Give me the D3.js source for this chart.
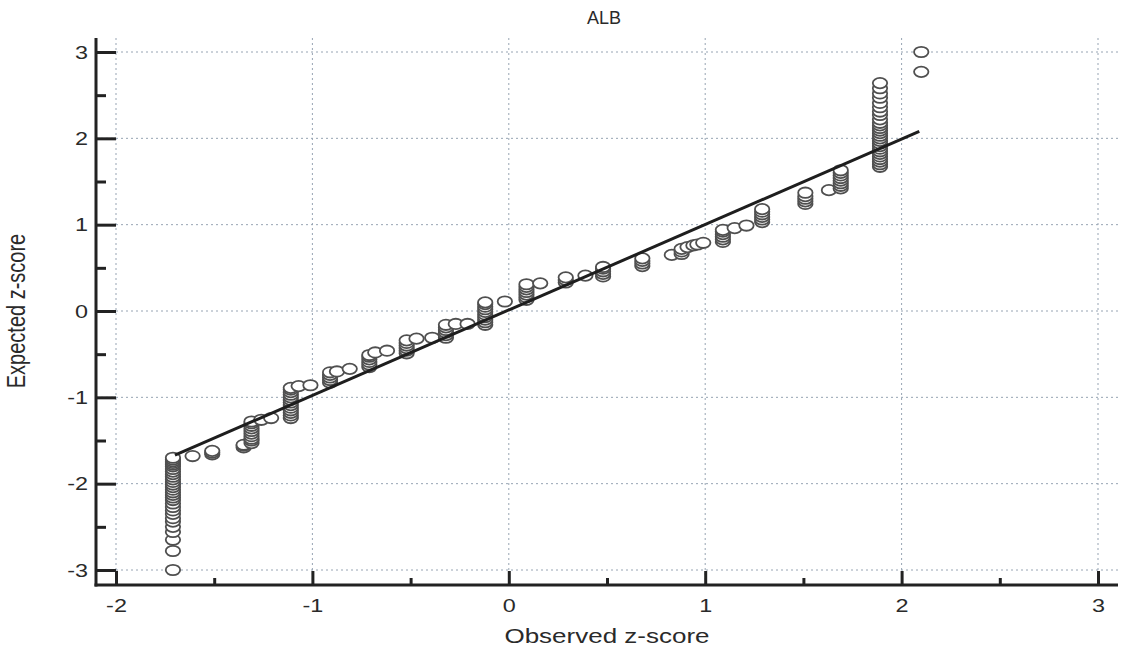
<!DOCTYPE html>
<html>
<head>
<meta charset="utf-8">
<script src="https://cdn.jsdelivr.net/npm/d3@7"></script>
<style>
  html, body { margin: 0; padding: 0; background: #ffffff; }
  text { font-family: "Liberation Sans", Arial, sans-serif; fill: #2a2a2a; }
</style>
</head>
<body>
<svg id="chart" width="1132" height="651"></svg>
<script>
// ---------- data ----------
const chartTitle = "ALB";
const xAxisTitle = "Observed z-score";
const yAxisTitle = "Expected z-score";
const xTickValues = [-2, -1, 0, 1, 2, 3];
const yTickValues = [-3, -2, -1, 0, 1, 2, 3];
const xTickLabels = ["-2", "-1", "0", "1", "2", "3"];
const yTickLabels = ["-3", "-2", "-1", "0", "1", "2", "3"];

// observed z-score for each group of points
const groupObserved = [
  -1.71, -1.61, -1.51, -1.35, -1.31, -1.26, -1.21, -1.11, -1.07, -1.01,
  -0.91, -0.875, -0.81, -0.71, -0.68, -0.62, -0.52, -0.47, -0.39, -0.32,
  -0.27, -0.21, -0.12, -0.02, 0.09, 0.16, 0.29, 0.39, 0.48, 0.68,
  0.83, 0.88, 0.91, 0.94, 0.96, 0.99, 1.09, 1.15, 1.21, 1.29,
  1.51, 1.63, 1.69, 1.89, 2.10
];
// expected z-scores of the points in each group
const groupExpected = [
  [-3.00, -2.78, -2.65, -2.56, -2.50, -2.44, -2.40, -2.35, -2.31, -2.27, -2.23, -2.19, -2.16, -2.13, -2.10,
   -2.07, -2.04, -2.01, -1.98, -1.95, -1.92, -1.89, -1.86, -1.83, -1.80, -1.78, -1.76, -1.74, -1.72, -1.70],
  [-1.68],
  [-1.66, -1.64, -1.62],
  [-1.58, -1.56, -1.55],
  [-1.53, -1.50, -1.48, -1.45, -1.42, -1.39, -1.36, -1.33, -1.30, -1.28],
  [-1.26],
  [-1.24],
  [-1.24, -1.21, -1.18, -1.15, -1.12, -1.09, -1.06, -1.03, -1.00, -0.97, -0.94, -0.91, -0.89],
  [-0.87],
  [-0.86],
  [-0.83, -0.80, -0.77, -0.74, -0.71],
  [-0.70],
  [-0.67],
  [-0.65, -0.62, -0.59, -0.56, -0.53, -0.51],
  [-0.48],
  [-0.46],
  [-0.49, -0.46, -0.43, -0.40, -0.37, -0.34],
  [-0.32],
  [-0.31],
  [-0.31, -0.28, -0.25, -0.22, -0.19, -0.16],
  [-0.15],
  [-0.15],
  [-0.16, -0.13, -0.10, -0.07, -0.04, -0.01, 0.02, 0.05, 0.08, 0.10],
  [0.11],
  [0.13, 0.16, 0.19, 0.22, 0.25, 0.28, 0.31],
  [0.32],
  [0.33, 0.36, 0.39],
  [0.41],
  [0.40, 0.43, 0.46, 0.49, 0.51],
  [0.52, 0.55, 0.58, 0.61],
  [0.65],
  [0.66, 0.69, 0.72],
  [0.74],
  [0.76],
  [0.77],
  [0.79],
  [0.80, 0.83, 0.86, 0.89, 0.92, 0.94],
  [0.96],
  [0.99],
  [1.03, 1.06, 1.09, 1.12, 1.15, 1.18],
  [1.24, 1.27, 1.30, 1.33, 1.37],
  [1.40],
  [1.42, 1.45, 1.48, 1.51, 1.54, 1.57, 1.60, 1.63],
  [1.67, 1.70, 1.73, 1.76, 1.79, 1.82, 1.85, 1.88, 1.91, 1.94, 1.97, 2.00, 2.03, 2.06, 2.09, 2.12, 2.15,
   2.18, 2.22, 2.27, 2.31, 2.36, 2.41, 2.47, 2.52, 2.58, 2.64],
  [2.77, 3.00]
];
// reference line end points
const lineObserved = [-1.70, 2.09];
const lineExpected = [-1.67, 2.08];

// ---------- layout ----------
const svg = d3.select("#chart");
const defs = svg.append("defs");
defs.append("filter").attr("id", "soft")
  .attr("filterUnits", "userSpaceOnUse").attr("x", 0).attr("y", 0).attr("width", 1132).attr("height", 651)
  .append("feGaussianBlur").attr("stdDeviation", 0.7);

const x = d3.scaleLinear().domain([-2, 3]).range([116, 1098]);
const y = d3.scaleLinear().domain([-3, 3]).range([570, 52]);
const xMin = x.invert(96), xMax = x.invert(1118);
const yMin = y.invert(585), yMax = y.invert(38);
const stretch = 1.3; // horizontal stretch of the glyphs in the reference

const gridColor = "#97a4b3";
svg.append("g").selectAll("line").data(xTickValues).join("line")
  .attr("x1", d => x(d)).attr("x2", d => x(d))
  .attr("y1", y(yMax)).attr("y2", y(yMin))
  .attr("stroke", gridColor).attr("stroke-width", 1).attr("stroke-dasharray", "2,3");
svg.append("g").selectAll("line").data(yTickValues).join("line")
  .attr("x1", x(xMin)).attr("x2", x(xMax))
  .attr("y1", d => y(d)).attr("y2", d => y(d))
  .attr("stroke", gridColor).attr("stroke-width", 1).attr("stroke-dasharray", "2,3");

// axes
const axisColor = "#222";
const yAxisG = svg.append("g").attr("transform", `translate(${x(xMin)},0)`);
yAxisG.call(d3.axisLeft(y).tickValues(yTickValues).tickSize(-20).tickFormat((d, i) => yTickLabels[i]));
const yMinorG = svg.append("g").attr("transform", `translate(${x(xMin)},0)`);
yMinorG.call(d3.axisLeft(y).tickValues([-2.5, -1.5, -0.5, 0.5, 1.5, 2.5]).tickSize(-10).tickFormat(""));

const xAxisG = svg.append("g").attr("transform", `translate(0,${y(yMin)})`);
xAxisG.call(d3.axisBottom(x).tickValues(xTickValues).tickSize(-14).tickFormat((d, i) => xTickLabels[i]));
const xMinorG = svg.append("g").attr("transform", `translate(0,${y(yMin)})`);
xMinorG.call(d3.axisBottom(x).tickValues([-1.5, -0.5, 0.5, 1.5, 2.5]).tickSize(-7).tickFormat(""));

[yAxisG, yMinorG, xAxisG, xMinorG].forEach(g => {
  g.select(".domain").remove();
  g.selectAll(".tick line").attr("stroke", axisColor).attr("stroke-width", 3);
  g.selectAll(".tick text").style("font-size", "18px").attr("fill", "#2a2a2a")
    .style("font-family", '"Liberation Sans", Arial, sans-serif');
});
yAxisG.selectAll(".tick text").attr("dy", "0.35em").attr("x", -8 / stretch).attr("transform", `scale(${stretch},1)`);
xAxisG.selectAll(".tick text").attr("y", 14).attr("dy", "0.71em").attr("transform", `scale(${stretch},1)`);

// axis lines
svg.append("line").attr("x1", x(xMin)).attr("x2", x(xMin)).attr("y1", y(yMax)).attr("y2", y(yMin) + 1.5)
  .attr("stroke", axisColor).attr("stroke-width", 3);
svg.append("line").attr("x1", x(xMin) - 1.5).attr("x2", x(xMax)).attr("y1", y(yMin)).attr("y2", y(yMin))
  .attr("stroke", axisColor).attr("stroke-width", 3);

// points
const points = [];
groupObserved.forEach((ox, i) => groupExpected[i].forEach(ey => points.push({ ox, ey })));
points.sort((a, b) => a.ey - b.ey);
svg.append("g").attr("filter", "url(#soft)").selectAll("ellipse").data(points).join("ellipse")
  .attr("cx", d => x(d.ox)).attr("cy", d => y(d.ey))
  .attr("rx", 7.2).attr("ry", 5.2)
  .attr("fill", "#ffffff").attr("stroke", "#505050").attr("stroke-width", 1.8);

// reference line
svg.append("line")
  .attr("x1", x(lineObserved[0])).attr("y1", y(lineExpected[0]))
  .attr("x2", x(lineObserved[1])).attr("y2", y(lineExpected[1]))
  .attr("stroke", "#1e1e1e").attr("stroke-width", 3);

// titles
svg.append("text").attr("x", 604).attr("y", 24).attr("text-anchor", "middle")
  .style("font-size", "18px").text(chartTitle);
svg.append("text").attr("transform", `translate(607,643) scale(${stretch},1)`).attr("text-anchor", "middle")
  .style("font-size", "20px").text(xAxisTitle);
svg.append("text").attr("transform", "translate(25,311) rotate(-90) scale(1,1.3)").attr("text-anchor", "middle")
  .style("font-size", "20px").text(yAxisTitle);
</script>
</body>
</html>
